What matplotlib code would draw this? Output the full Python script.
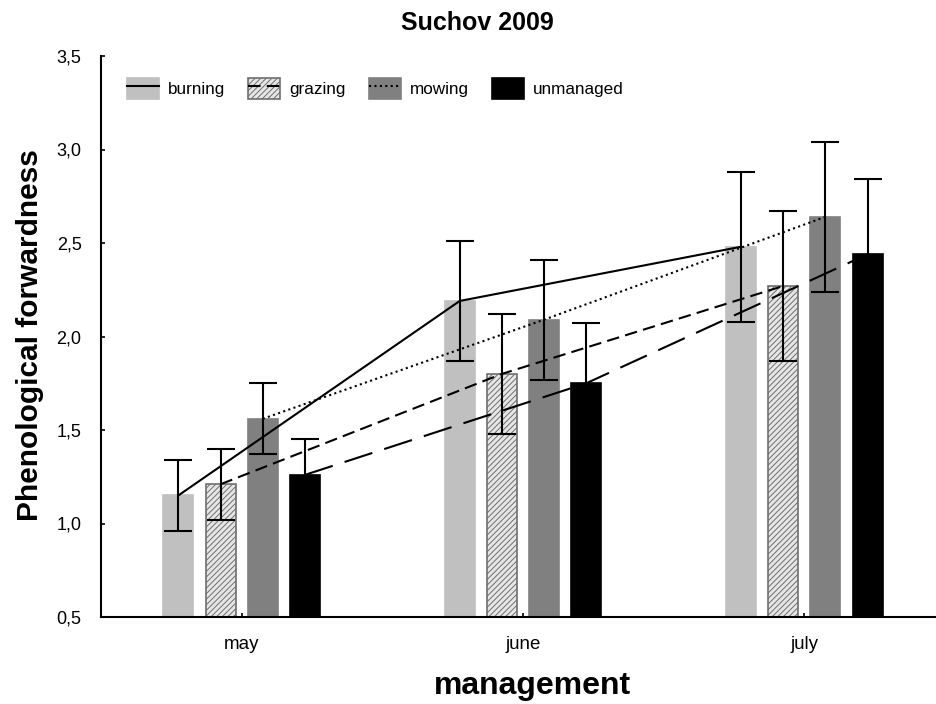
import matplotlib
matplotlib.use("Agg")
import matplotlib.pyplot as plt
from matplotlib.patches import Patch
from matplotlib.lines import Line2D
import numpy as np

plt.rcParams['font.family'] = ['Liberation Sans', 'DejaVu Sans']
plt.rcParams['hatch.linewidth'] = 0.7

months = ["may", "june", "july"]
treatments = ["burning", "grazing", "mowing", "unmanaged"]
burning = [1.15, 2.19, 2.48]
grazing = [1.21, 1.80, 2.27]
mowing = [1.56, 2.09, 2.64]
unmanaged = [1.26, 1.75, 2.44]
errors = [0.19, 0.32, 0.40]
ytick_vals = [0.5, 1.0, 1.5, 2.0, 2.5, 3.0, 3.5]
ytick_labels = ["0,5", "1,0", "1,5", "2,0", "2,5", "3,0", "3,5"]

series = [burning, grazing, mowing, unmanaged]
faces = ["#c0c0c0", "#e6e6e6", "#808080", "#000000"]
edges = ["#c0c0c0", "#6e6e6e", "#808080", "#000000"]
hatches = [None, "//////", None, None]
lstyles = ["-", (0, (6, 3)), (0, (1, 1.6)), (0, (14, 6))]

fig = plt.figure(figsize=(9.36, 7.04), dpi=100)
ax = fig.add_axes([101/936, 1-617/704, 1-101/936, (617-56)/704])

x = np.arange(len(months))
width = 0.107
offsets = [-0.225, -0.075, 0.075, 0.225]

for i, vals in enumerate(series):
    xs = x + offsets[i]
    ax.bar(xs, np.array(vals) - 0.5, bottom=0.5, width=width, color=faces[i],
           edgecolor=edges[i], linewidth=1.2, hatch=hatches[i], zorder=2)
    ax.errorbar(xs, vals, yerr=errors, fmt='none', ecolor='black',
                elinewidth=1.5, capsize=10.4, capthick=1.5, zorder=3)
    ax.plot(xs, vals, color='black', linestyle=lstyles[i], linewidth=1.5, zorder=4)

ax.set_xlim(-0.5, 2.468)
ax.set_ylim(0.5, 3.5)
ax.set_xticks(x)
ax.set_xticklabels(months, fontsize=13.5)
ax.set_yticks(ytick_vals)
ax.set_yticklabels(ytick_labels, fontsize=13)
ax.tick_params(axis='both', direction='in', length=3, width=1.2)
ax.tick_params(axis='y', pad=14)
ax.tick_params(axis='x', pad=14)
for s in ['top', 'right']:
    ax.spines[s].set_visible(False)
for s in ['left', 'bottom']:
    ax.spines[s].set_linewidth(1.5)

handles = []
for i in range(4):
    p = Patch(facecolor=faces[i], edgecolor=edges[i], hatch=hatches[i], linewidth=1.2)
    l = Line2D([], [], color='black', linestyle=lstyles[i], linewidth=1.5)
    handles.append((p, l))
leg = ax.legend(handles, treatments, ncol=4, frameon=False, fontsize=12.3,
                loc='upper left', bbox_to_anchor=((127-101)/835, (617-78)/561),
                borderpad=0, borderaxespad=0,
                handlelength=1.87, handleheight=1.5, columnspacing=1.35,
                handletextpad=0.53)

fig.text(477/936, 1-23/704, "Suchov 2009", ha='center', va='center',
         fontsize=18, fontweight='bold')
fig.text(30/936, 1-335/704, "Phenological forwardness", ha='center', va='center',
         rotation=90, fontsize=21.5, fontweight='bold')
fig.text(532/936, 1-686/704, "management", ha='center', va='center',
         fontsize=23, fontweight='bold')

fig.savefig("out.png", dpi=100)
